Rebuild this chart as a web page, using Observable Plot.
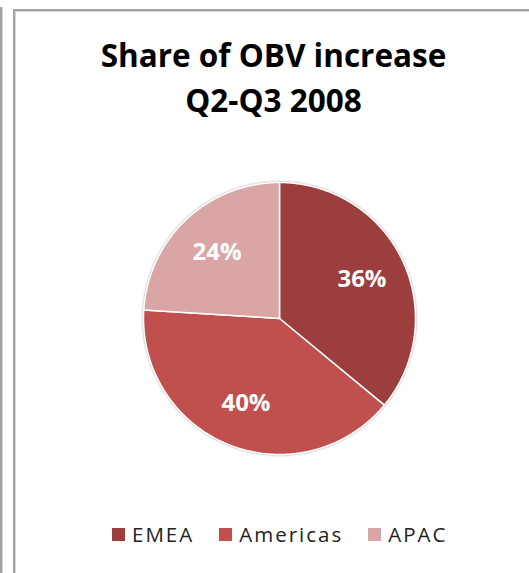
<!DOCTYPE html>
<html>
<head>
<meta charset="utf-8">
<script src="https://cdn.jsdelivr.net/npm/d3@7"></script>
<script src="https://cdn.jsdelivr.net/npm/@observablehq/plot@0.6"></script>
<style>
  html, body { margin: 0; padding: 0; background: #fff; width: 529px; height: 573px; overflow: hidden; }
  #prevframe { position: absolute; left: -20px; top: 7px; width: 20px; height: 600px; border-right: 2px solid #a3a3a3; box-shadow: 1px 0 0 #d6d6d6; }
  #frame { position: absolute; left: 13px; top: 9px; width: 560px; height: 600px; border-left: 2px solid #a3a3a3; border-top: 2px solid #a3a3a3; box-shadow: inset 1px 1px 0 #d6d6d6; background: #fff; }
  #title { position: absolute; left: 0; width: 547px; top: 32px; text-align: center; font-family: "Open Sans", sans-serif; font-weight: bold; font-size: 31.5px; line-height: 45px; color: #000; }
  #chart { position: absolute; left: 0; top: 168px; }
  #chart g[aria-label="line"] { filter: drop-shadow(0 0 1.2px rgba(0,0,0,0.35)); }
  #legend { position: absolute; left: 112px; top: 520px; }
  #legend div, #legend > * { font-family: "Open Sans", sans-serif !important; font-size: 20.5px !important; color: #222 !important; margin: 0 !important; min-height: 0 !important; }
  #legend span { margin-right: 25px !important; letter-spacing: 2px; }
  #legend span svg { margin-right: 7px !important; }
</style>
</head>
<body>
<div id="prevframe"></div>
<div id="frame"></div>
<div id="title">Share of OBV increase<br>Q2-Q3 2008</div>
<div id="chart"></div>
<div id="legend"></div>
<script>
const regions = ["EMEA", "Americas", "APAC"];
const shares = [36, 40, 24];
const labels = ["36%", "40%", "24%"];
const colors = ["#9b3e3d", "#c0504d", "#d9a6a5"];

// build slice outlines from the data (angles from d3.pie, clockwise from top)
const arcs = d3.pie().sort(null)(shares);
const slicePoints = [];
arcs.forEach((a, i) => {
  const n = Math.max(8, Math.ceil((a.endAngle - a.startAngle) / 0.01));
  slicePoints.push({region: regions[i], x: 0, y: 0});
  for (let k = 0; k <= n; k++) {
    const t = a.startAngle + (a.endAngle - a.startAngle) * k / n;
    slicePoints.push({region: regions[i], x: Math.sin(t), y: Math.cos(t)});
  }
});
const labelData = arcs.map((a, i) => {
  const m = (a.startAngle + a.endAngle) / 2;
  return {region: regions[i], text: labels[i], x: 0.67 * Math.sin(m), y: 0.67 * Math.cos(m)};
});

const chart = Plot.plot({
  width: 529,
  height: 300,
  margin: 0,
  style: {background: "transparent", overflow: "visible"},
  x: {domain: [-1, 1], range: [143, 415], axis: null},
  y: {domain: [-1, 1], range: [286, 14], axis: null},
  color: {domain: regions, range: colors},
  marks: [
    Plot.line(slicePoints, {x: "x", y: "y", z: "region", fill: "region", stroke: "white", strokeWidth: 1.5, curve: "linear-closed"}),
    Plot.text(labelData, {x: "x", y: "y", text: "text", fill: "white", fontWeight: "bold", fontSize: 24, fontFamily: "Open Sans, sans-serif"})
  ]
});
document.getElementById("chart").appendChild(chart);

const legend = Plot.legend({color: {domain: regions, range: colors}, swatchSize: 13});
document.getElementById("legend").appendChild(legend);
</script>
</body>
</html>
